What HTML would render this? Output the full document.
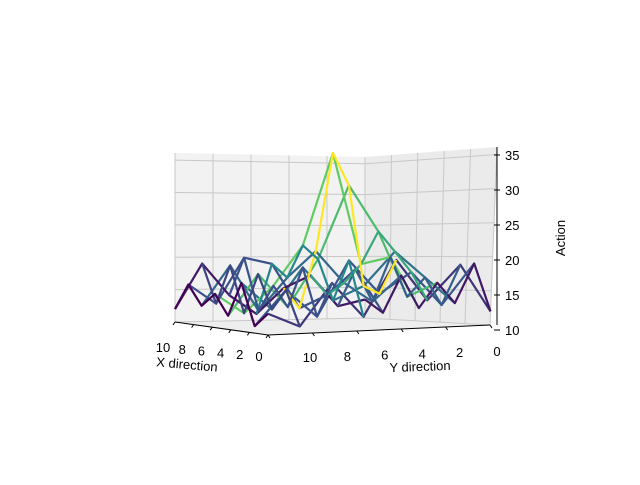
<!DOCTYPE html>
<html><head><meta charset="utf-8"><style>
body{margin:0;background:#fff;}
svg text{font-family:"Liberation Sans",sans-serif;font-size:13px;fill:#000;}
</style></head><body>
<svg id="chart" width="640" height="480" viewBox="0 0 640 480">
<polygon points="175,322 365,318 365,157 175,153" fill="#f2f2f2"/>
<polygon points="365,318 490,325 497,147 365,157" fill="#ebebeb"/>
<polygon points="175,322 365,318 490,325 268,335" fill="#eeeeee"/>
<g id="grid" stroke="#c8c8c8" stroke-width="1"></g>
<g id="wire" fill="none" stroke-width="2.2" stroke-linejoin="round"></g>
<g id="axes"></g>
<text x="187" y="369" text-anchor="middle" transform="rotate(5 187 365)">X direction</text>
<text x="420" y="371" text-anchor="middle" transform="rotate(-2 420 367)">Y direction</text>
<text x="565" y="238" text-anchor="middle" transform="rotate(-90 565 238)">Action</text>
</svg>
<script>
const xs=[0,1.43,2.86,4.29,5.71,7.14,8.57,10];
const ys=[0,1.43,2.86,4.29,5.71,7.14,8.57,10];
// zVals[i][j]: x=xs[i], y=ys[j]
const zVals=[
 [12,19,14,20,12,17,11,13],
 [19,13,18,15,20,12,16,11],
 [13,17,21,16,14,19,13,17],
 [16,14,24,31,20,13,18,12],
 [12,20,19,36,22,16,12,15],
 [17,13,16,21,17,12,19,13],
 [11,18,14,12,19,20,13,16],
 [13,12,17,15,11,14,19,12]
];
const xTicks=[0,2,4,6,8,10];
const yTicks=[0,2,4,6,8,10];
const zTicks=[10,15,20,25,30,35];
const zMin=10,zMax=36.1;
const svg=document.getElementById('chart'),NS='http://www.w3.org/2000/svg';
const B={'10_10':[175,322],'0_10':[268,335],'0_0':[490,325],'10_0':[365,318]};
const T={'10_10':[175,153],'0_10':[268,150],'0_0':[497,147],'10_0':[365,157]};
function bil(C,x,y){const u=x/10,v=y/10;
 const a=C['0_0'],b=C['10_0'],c=C['0_10'],d=C['10_10'];
 return [0,1].map(k=>(1-u)*(1-v)*a[k]+u*(1-v)*b[k]+(1-u)*v*c[k]+u*v*d[k]);}
function proj(x,y,z){const b=bil(B,x,y),t=bil(T,x,y),f=(z-zMin)/(zMax-zMin);
 return [b[0]+(t[0]-b[0])*f,b[1]+(t[1]-b[1])*f];}
function viridis(t){const s=[[68,1,84],[59,82,139],[33,145,140],[94,201,98],[253,231,37]];
 t=Math.max(0,Math.min(1,t))*4;const i=Math.min(3,Math.floor(t)),f=t-i;
 return 'rgb('+[0,1,2].map(k=>Math.round(s[i][k]+(s[i+1][k]-s[i][k])*f)).join(',')+')';}
const grid=document.getElementById('grid');
function line(g,p,q,col,w){const l=document.createElementNS(NS,'line');
 l.setAttribute('x1',p[0]);l.setAttribute('y1',p[1]);l.setAttribute('x2',q[0]);l.setAttribute('y2',q[1]);
 if(col)l.setAttribute('stroke',col);if(w)l.setAttribute('stroke-width',w);g.appendChild(l);return l;}
yTicks.forEach(y=>{const l=line(grid,proj(10,y,zMin),proj(10,y,zMax));

});
xTicks.forEach(x=>{const l=line(grid,proj(x,0,zMin),proj(x,0,zMax));

});
zTicks.forEach(z=>{const a=line(grid,proj(10,10,z),proj(10,0,z));


const b=line(grid,proj(10,0,z),proj(0,0,z));

});
const wire=document.getElementById('wire');
const lines=[];
xs.forEach((x,i)=>lines.push({pts:ys.map((y,j)=>proj(x,y,zVals[i][j])),zs:zVals[i]}));
ys.forEach((y,j)=>lines.push({pts:xs.map((x,i)=>proj(x,y,zVals[i][j])),zs:xs.map((x,i)=>zVals[i][j])}));
const means=lines.map(L=>L.zs.reduce((a,b)=>a+b,0)/L.zs.length);
const mLo=Math.min(...means),mHi=Math.max(...means);
lines.forEach((L,k)=>{const p=document.createElementNS(NS,'polyline');
 p.setAttribute('points',L.pts.map(q=>q.join(',')).join(' '));
 p.setAttribute('stroke',viridis((means[k]-mLo)/(mHi-mLo||1)));
 
 
 wire.appendChild(p);});
const axes=document.getElementById('axes');
function txt(s,x,y,anchor,name){const t=document.createElementNS(NS,'text');t.textContent=s;
 t.setAttribute('x',x);t.setAttribute('y',y);t.setAttribute('text-anchor',anchor||'middle');
 
 
 axes.appendChild(t);}
line(axes,proj(10,10,zMin),proj(0,10,zMin),'#000',1);
line(axes,proj(0,10,zMin),proj(0,0,zMin),'#000',1);
line(axes,[497,325],[497,147],'#000',1);
xTicks.forEach(x=>{const p=proj(x,10,zMin);line(axes,p,[p[0]-2,p[1]+3],'#000',1);
 txt(String(x),259-9.6*x,356-0.9*x+5,'middle','x-tick-label');});
yTicks.forEach(y=>{const p=proj(0,y,zMin);line(axes,p,[p[0]+2,p[1]+3],'#000',1);
 txt(String(y),497-18.7*y,351+0.6*y+5,'middle','y-tick-label');});
zTicks.forEach(z=>{const yy=330-(z-10)*7;line(axes,[494,yy],[500,yy],'#000',1);
 txt(String(z),505,yy+5,'start','z-tick-label');});
</script>
</body></html>
